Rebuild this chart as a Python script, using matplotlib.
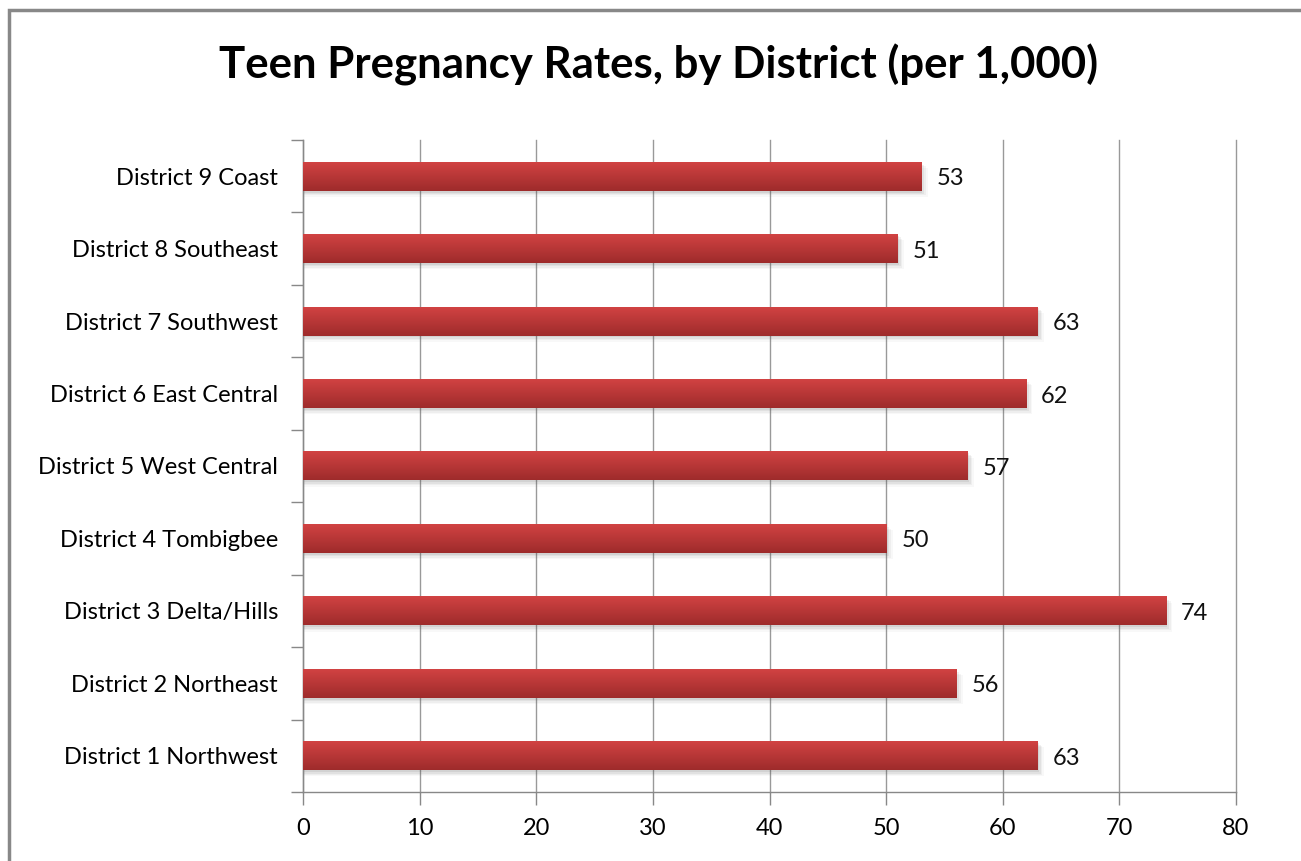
import numpy as np
import matplotlib.pyplot as plt
from matplotlib.patches import Rectangle

# Teen pregnancy rates per 1,000, bottom-to-top order
districts = [
    "District 1 Northwest",
    "District 2 Northeast",
    "District 3 Delta/Hills",
    "District 4 Tombigbee",
    "District 5 West Central",
    "District 6 East Central",
    "District 7 Southwest",
    "District 8 Southeast",
    "District 9 Coast",
]
rates = [63, 56, 74, 50, 57, 62, 63, 51, 53]
x_ticks = [0, 10, 20, 30, 40, 50, 60, 70, 80]

plt.rcParams['font.family'] = ['Lato', 'DejaVu Sans']

fig = plt.figure(figsize=(13.01, 8.61), dpi=100)
fig.patch.set_facecolor('white')
ax = fig.add_axes([303 / 1301, 1 - 792 / 861, (1236 - 303) / 1301, (792 - 140) / 861])

bar_h = 0.4
y_pos = np.arange(len(districts))

# vertical red gradient for the bars (light top, dark bottom)
top_col = np.array([0.82, 0.26, 0.26])
bot_col = np.array([0.62, 0.17, 0.17])
t = np.linspace(0, 1, 64)[:, None]
grad = (top_col * (1 - t) + bot_col * t)[:, None, :]
grad = np.repeat(grad, 2, axis=1)

for y, v in zip(y_pos, rates):
    # soft drop shadow under each bar
    for k, a in enumerate([0.10, 0.08, 0.06, 0.04]):
        off = 0.025 + 0.02 * k
        ax.add_patch(Rectangle((0.1, y - bar_h / 2 - off), v + 0.15 * k, bar_h,
                               facecolor='#555555', edgecolor='none', alpha=a, zorder=2))
    ax.imshow(grad, extent=[0, v, y - bar_h / 2, y + bar_h / 2], aspect='auto',
              interpolation='bilinear', zorder=3)
    ax.text(v + 1.3, y - 0.035, str(v), va='center', ha='left', fontsize=17,
            color='#111111', zorder=4)

ax.set_xlim(0, 80)
ax.set_ylim(-0.5, len(districts) - 0.5)
ax.set_xticks(x_ticks)
ax.set_xticklabels([str(x) for x in x_ticks], fontsize=17)
ax.set_yticks(y_pos)
ax.set_yticklabels(districts, fontsize=17)
ax.set_yticks(np.arange(-0.5, len(districts), 1.0), minor=True)

ax.tick_params(axis='y', which='major', length=0, pad=18)
ax.tick_params(axis='y', which='minor', length=9, color='#888888', width=1)
ax.tick_params(axis='x', which='major', length=9, color='#888888', width=1, pad=10)

ax.grid(axis='x', color='#999999', linewidth=1, zorder=0)
ax.set_axisbelow(True)
for gl in ax.get_xgridlines():
    gl.set_clip_on(False)
for s in ['top', 'right']:
    ax.spines[s].set_visible(False)
for s in ['left', 'bottom']:
    ax.spines[s].set_color('#888888')
    ax.spines[s].set_linewidth(1)

fig.text(659 / 1301, 1 - 65 / 861, "Teen Pregnancy Rates, by District (per 1,000)",
         ha='center', va='center', fontsize=31.5, fontweight='bold', color='black')

# chart frame: left, top and right edges
fig.patches.append(Rectangle((9 / 1301, -0.05), 1.1, 1.05 - 10 / 861, transform=fig.transFigure,
                             fill=False, edgecolor='#888888', linewidth=2.5))

fig.savefig('out.png', dpi=100)
